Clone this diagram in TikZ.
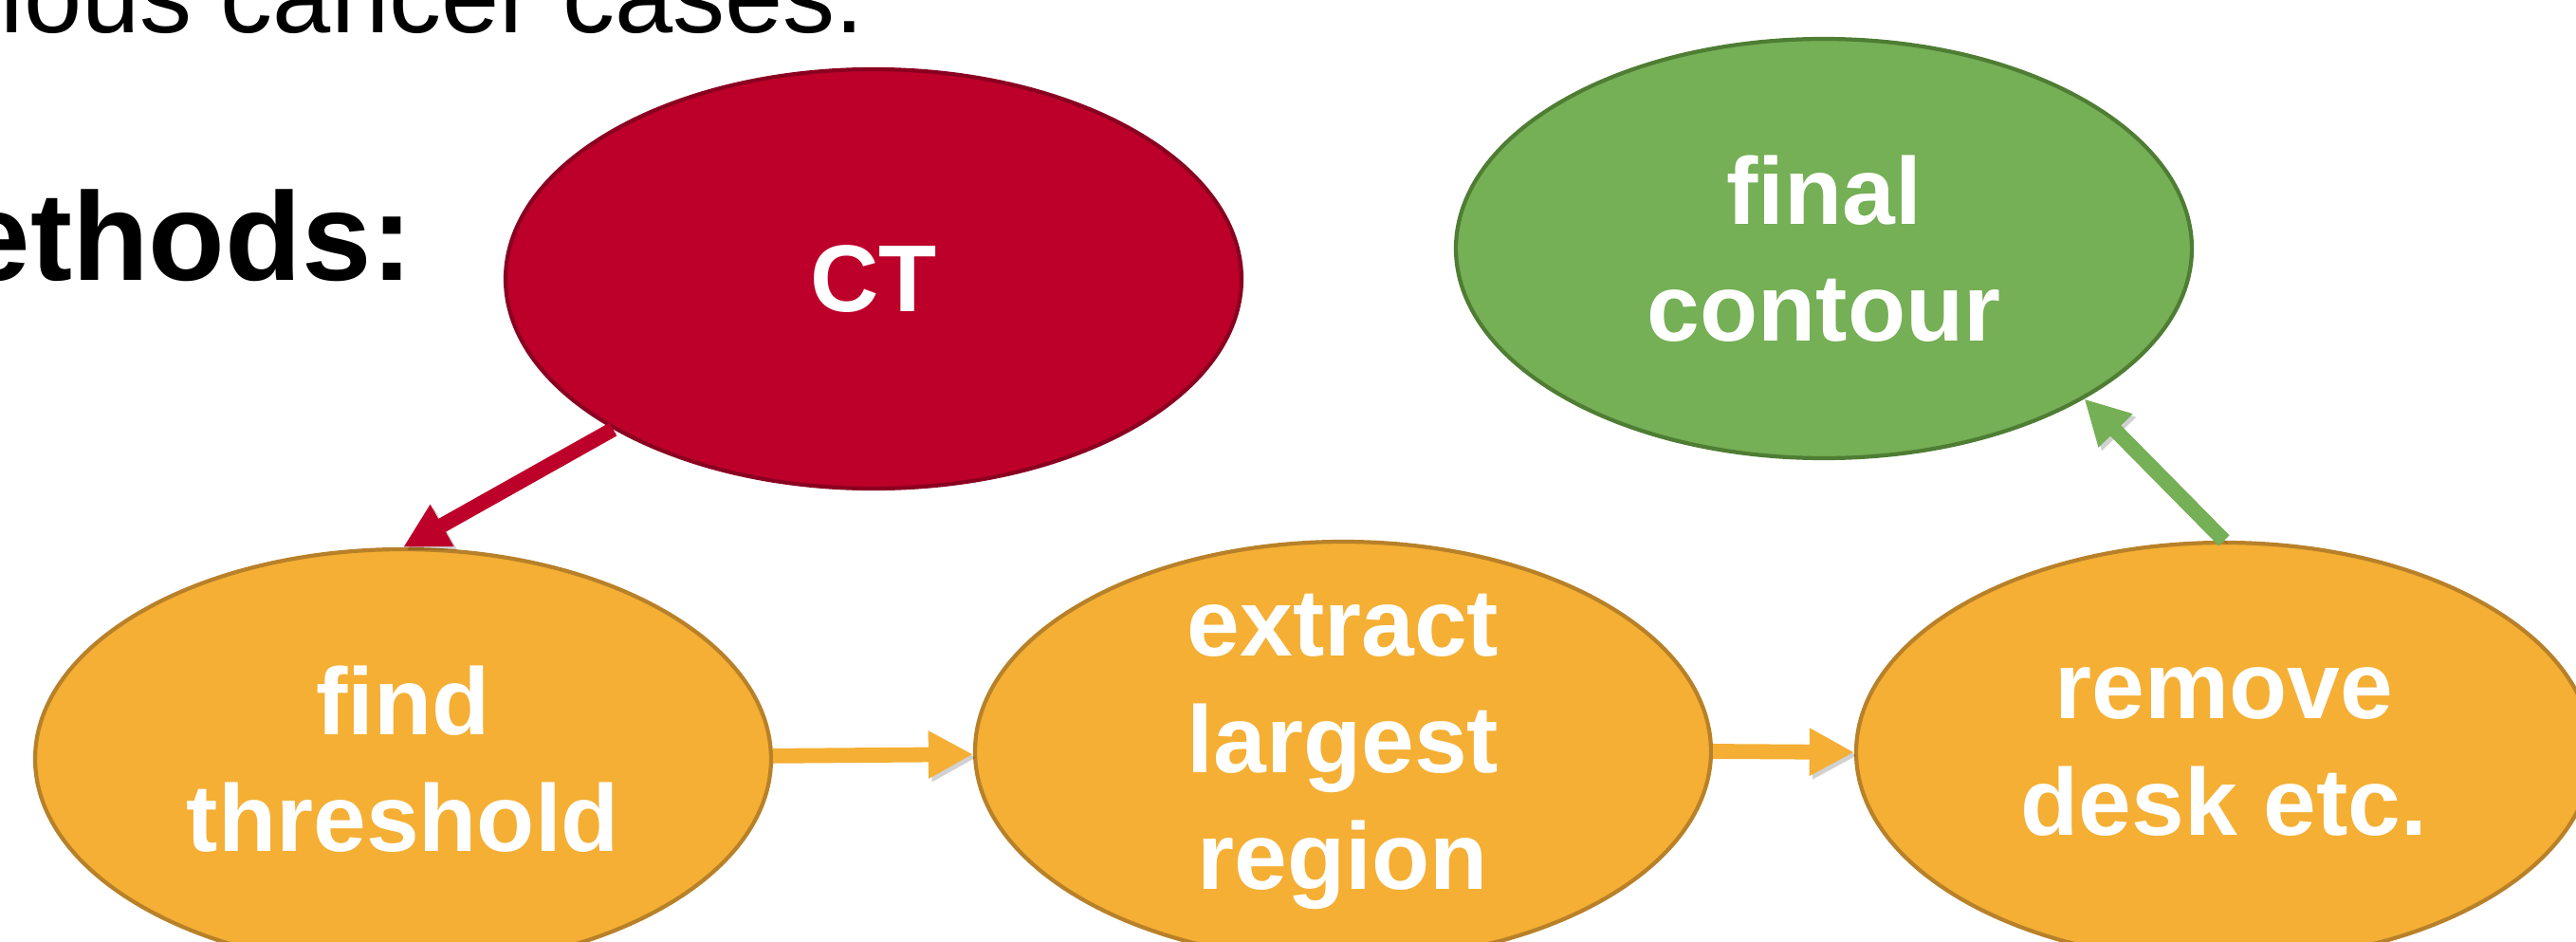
\documentclass[tikz,border=0pt]{standalone}
\usepackage{fontspec}
\setmainfont{Liberation Sans}
\usetikzlibrary{shapes.geometric,arrows.meta}

\definecolor{ctred}{HTML}{BD0029}
\definecolor{ctredline}{HTML}{8A0020}
\definecolor{endgreen}{HTML}{75AF56}
\definecolor{endgreenline}{HTML}{4E7D33}
\definecolor{steporange}{HTML}{F4AF34}
\definecolor{steporangeline}{HTML}{B88129}

\begin{document}
\begin{tikzpicture}[
    blob/.style={ellipse, minimum width=7.76cm, minimum height=4.42cm, inner sep=0pt,
      inner ysep=-0.6cm, line width=1.2pt, text=white, align=center,
      font=\fontsize{28.5}{35}\selectfont\bfseries},
    ctblob/.style={blob, fill=ctred, draw=ctredline},
    stepblob/.style={blob, fill=steporange, draw=steporangeline},
    endblob/.style={blob, fill=endgreen, draw=endgreenline},
    flow/.style={line width=4.5pt, -{Triangle[length=13.4pt,width=13.4pt]},
      preaction={draw=black, opacity=0.18, transform canvas={shift={(0.035,-0.035)}}}},
  ]
  \useasboundingbox (0,0) rectangle (27.16,9.92);
  \clip (0,0) rectangle (27.16,9.92);
  % slide text around the chart
  \node[anchor=base west, inner sep=0pt, font=\fontsize{31.3}{36}\selectfont] (casesline) at (0,9.57) {ious cancer cases.};
  \node[anchor=base west, inner sep=0pt, font=\fontsize{37.6}{44}\selectfont\bfseries] (methodsline) at (-0.42,6.97) {ethods:};
  % the steps
  \node[ctblob] (ct) at (9.21,6.98) {CT};
  \node[endblob] (final) at (19.23,7.30) {final\\contour};
  \node[stepblob] (thresh) at (4.25,1.92) {find\\threshold};
  \node[stepblob] (extract) at (14.16,2.00) {extract\\largest\\region};
  \node[stepblob] (desk) at (23.45,1.99) {remove\\desk etc.};
  % arrows
  \draw[flow, ctred] (ct.210) -- (thresh.north);
  \draw[flow, steporange] (thresh) -- (extract);
  \draw[flow, steporange] (extract.east) -- (desk.west);
  \draw[flow, endgreen] (desk.north) -- (final.330);
\end{tikzpicture}
\end{document}
